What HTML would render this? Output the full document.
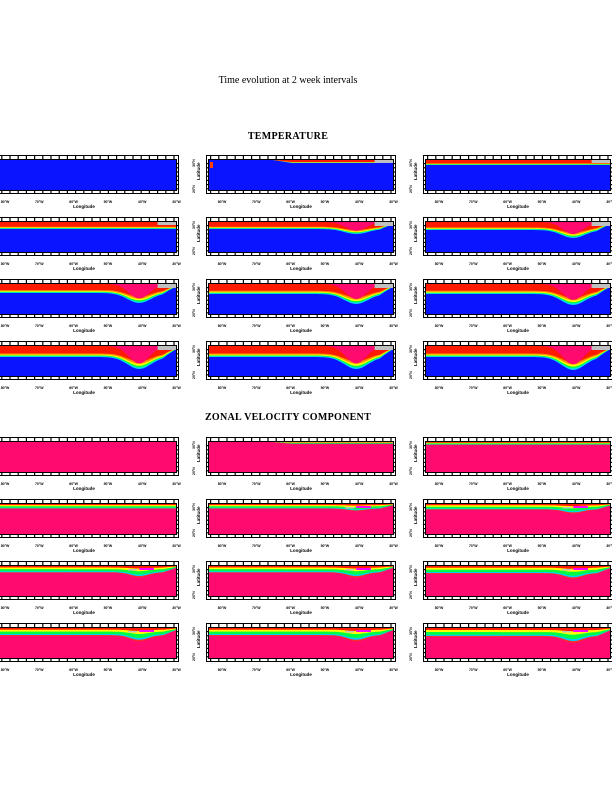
<!DOCTYPE html>
<html><head><meta charset="utf-8"><style>
html,body{margin:0;padding:0;background:#fff;width:612px;height:792px;overflow:hidden}
svg{display:block}
</style></head><body>
<svg id="s" width="612" height="792" xmlns="http://www.w3.org/2000/svg" font-family="Liberation Serif, serif">
<text x="288" y="83" font-size="10" text-anchor="middle">Time evolution at 2 week intervals</text>
<text x="288" y="139" font-size="10" text-anchor="middle" font-weight="bold" letter-spacing="0.3">TEMPERATURE</text>
<text x="288" y="420" font-size="10" text-anchor="middle" font-weight="bold" letter-spacing="0.3">ZONAL VELOCITY COMPONENT</text>
<g id="g"></g>
</svg>
<script>
const NS="http://www.w3.org/2000/svg";
const g=document.getElementById('g');
function el(t,a,txt){const e=document.createElementNS(NS,t);for(const k in a)e.setAttribute(k,a[k]);if(txt!==undefined)e.textContent=txt;g.appendChild(e);return e;}
const colX=[-11,206,423];
const tempY=[155,217,279,341], zonY=[437,499,561,623];
const BLUE="#0a14ff",PINK="#ff0a6e";
const Dt=[0,3,5,7,7,8,9,10,10,11,11,11];
const Bt=[0,0,0,0,5,8,10,10,11,12,12,13];
const Dz=[0,2,3,5,5,6,7,7,8,8,8,9];
function depth(t,f,D,B,sig){
  if(t===1){ if(f<0.35) return 0; return D*Math.min(1,(f-0.35)/0.1);}
  let d=D;
  if(B>0){const b=Math.exp(-Math.pow((f-0.8)/sig,2));d+=B*b;
    if(f>0.93) d=d*(1-(f-0.93)/0.1);}
  return Math.max(0,d);
}
function poly(x0,y0,w,fn,col){
  let pts=`${x0},${y0} `;
  const N=80;
  for(let i=0;i<=N;i++){const f=i/N;pts+=`${(x0+f*w).toFixed(1)},${(y0+fn(f)).toFixed(1)} `;}
  pts+=`${x0+w},${y0}`;
  el('polygon',{points:pts,fill:col});
}
function frame(ox,oy,W){
  const ix=ox+3,iy=oy+5,iw=W-6,ih=30;
  el('rect',{x:ox+0.5,y:oy+0.5,width:W-1,height:ih+8,fill:'none',stroke:'#000','stroke-width':1});
  el('rect',{x:ix-0.5,y:iy-0.5,width:iw+1,height:ih+1,fill:'none',stroke:'#000','stroke-width':1});
  for(let x=ox+4;x<ox+W-2;x+=8.2){el('rect',{x:x,y:oy,width:1.2,height:5,fill:'#000'});el('rect',{x:x,y:oy+ih+5,width:1.2,height:3,fill:'#000'});}
  for(let y=iy+3;y<iy+ih;y+=4.2){el('rect',{x:ox+W-3,y:y,width:3,height:1.2,fill:'#000'});el('rect',{x:ox,y:y,width:3,height:1.2,fill:'#000'});}
  el('text',{x:0,y:0,'font-size':4.5,'font-family':'Liberation Sans, sans-serif','font-weight':'bold',transform:`translate(${ox-6},${oy+25}) rotate(-90)`},'Latitude');
  el('text',{x:0,y:0,'font-size':3.5,'font-family':'Liberation Sans, sans-serif','font-weight':'bold',transform:`translate(${ox-11},${oy+12}) rotate(-90)`},'30°N');
  el('text',{x:0,y:0,'font-size':3.5,'font-family':'Liberation Sans, sans-serif','font-weight':'bold',transform:`translate(${ox-11},${oy+38}) rotate(-90)`},'20°N');
  const labs=['80°W','70°W','60°W','50°W','40°W','30°W'];
  for(let i=0;i<6;i++) el('text',{x:ix+13+i*34.3,y:oy+48,'font-size':3.5,'font-family':'Liberation Sans, sans-serif','font-weight':'bold','text-anchor':'middle'},labs[i]);
  el('text',{x:ix+iw/2,y:oy+53,'font-size':4.5,'font-family':'Liberation Sans, sans-serif','font-weight':'bold','text-anchor':'middle'},'Longitude');
}
for(let r=0;r<4;r++)for(let c=0;c<3;c++){
  const t=r*3+c, ox=colX[c], W=190;
  let oy=tempY[r], ix=ox+3, iy=oy+5, iw=W-6;
  el('rect',{x:ix,y:iy,width:iw,height:30,fill:BLUE});
  const D=Dt[t],B=Bt[t];
  const layers=[[1,"#00d8ff"],[0.93,"#00ff40"],[0.86,"#ffff00"],[0.78,"#ff9000"],[0.68,"#ff1a00"]];
  if(t>0) for(const [k,col] of layers) poly(ix,iy,iw,f=>Math.min(29,depth(t,f,D*k,B*k,0.09)),col);
  if(B>0) poly(ix,iy,iw,f=>{const b=Math.exp(-Math.pow((f-0.8)/0.08,2));return Math.min(28,(D*0.6+B*0.9)*b);},PINK);
  if(t>0){el('rect',{x:ix+iw*0.9,y:iy,width:iw*0.1,height:t>3?4:3,fill:'#c0c0c0'});}
  if(t===1){el('rect',{x:ix+1,y:iy+2,width:3,height:6,fill:'#ff4000'});}
  frame(ox,oy,W);
  oy=zonY[r]; iy=oy+5;
  el('rect',{x:ix,y:iy,width:iw,height:30,fill:PINK});
  const Z=Dz[t];
  if(t>0){
    const zl=[[1,"#ff2a2a"],[0.88,"#00d0ff"],[0.75,"#00ff40"],[0.45,"#ffff00"],[0.22,"#ff1a00"]];
    for(const [k,col] of zl) poly(ix,iy,iw,f=>Math.min(29,depth(t,f,Z*k,Bt[t]*0.45*k,0.07)),col);
    if(Bt[t]>0){el('rect',{x:ix+iw*0.8,y:iy+2,width:iw*0.08,height:2,fill:'#ff00ff'});
      el('rect',{x:ix+iw*0.74,y:iy+3,width:iw*0.05,height:1.5,fill:'#c0c0c0'});}
  }
  frame(ox,oy,W);
}
</script>
</body></html>
